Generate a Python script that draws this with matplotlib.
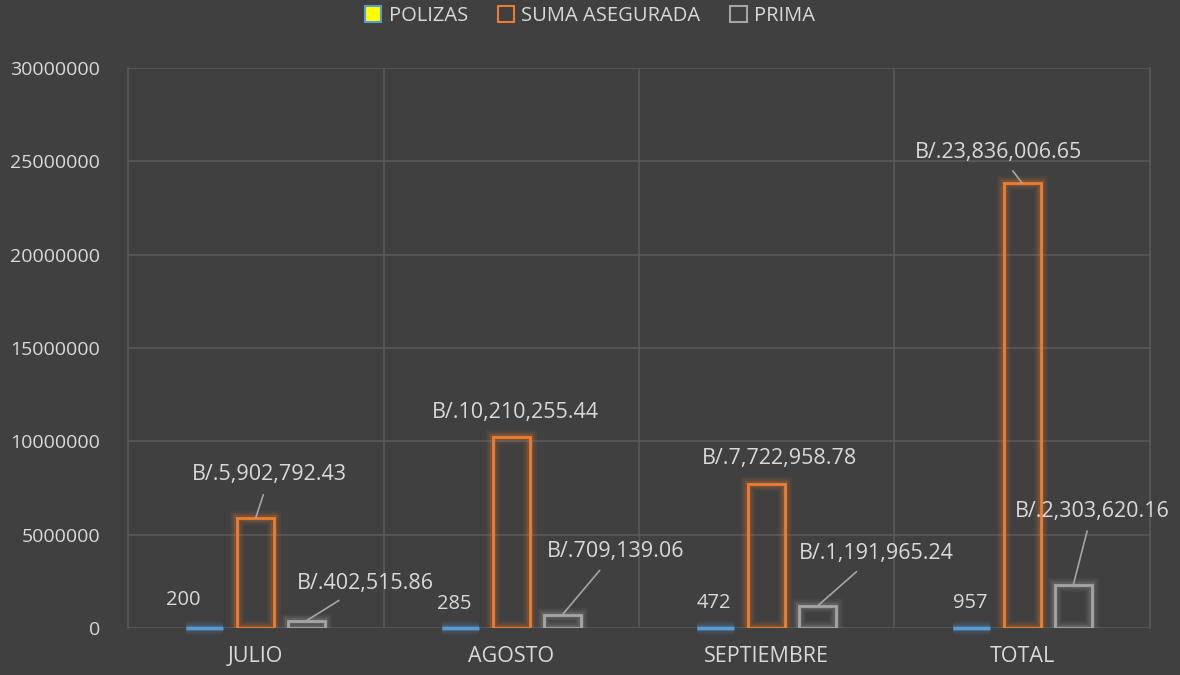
import matplotlib
matplotlib.use("Agg")
import matplotlib.pyplot as plt
import matplotlib.patheffects as pe
from matplotlib.patches import Patch
import numpy as np

plt.rcParams['font.family'] = ['Open Sans', 'DejaVu Sans']

categories = ["JULIO", "AGOSTO", "SEPTIEMBRE", "TOTAL"]
polizas = [200, 285, 472, 957]
suma_asegurada = [5902792.43, 10210255.44, 7722958.78, 23836006.65]
prima = [402515.86, 709139.06, 1191965.24, 2303620.16]
y_ticks = [0, 5000000, 10000000, 15000000, 20000000, 25000000, 30000000]

BG = "#404040"
GRID = "#595959"
TXT = "#D9D9D9"
BLUE = "#5B9BD5"
ORANGE = "#ED7D31"
GRAY = "#A5A5A5"


def money(v):
    return f"B/.{v:,.2f}"


def glow(color):
    return [pe.Stroke(linewidth=10, foreground=color, alpha=0.07),
            pe.Stroke(linewidth=7, foreground=color, alpha=0.1),
            pe.Stroke(linewidth=4.5, foreground=color, alpha=0.18),
            pe.Normal()]


fig = plt.figure(figsize=(11.8, 6.75), dpi=100, facecolor=BG)
ax = fig.add_axes([0.1085, 0.0696, 0.866, 0.8297], facecolor=BG)

x = np.arange(len(categories))
w = 0.145
step = 0.2

b1 = ax.bar(x - step, polizas, w, facecolor="#FFFF00", edgecolor=BLUE, linewidth=2.5,
            zorder=3, clip_on=False)
b2 = ax.bar(x, suma_asegurada, w, facecolor="none", edgecolor=ORANGE, linewidth=2, zorder=3)
b3 = ax.bar(x + step, prima, w, facecolor="none", edgecolor=GRAY, linewidth=2, zorder=3)
for bars, c in ((b1, BLUE), (b2, ORANGE), (b3, GRAY)):
    for r in bars:
        r.set_path_effects(glow(c))

ax.set_xlim(-0.5, 3.5)
ax.set_ylim(0, 30000000)
ax.set_yticks(y_ticks)
ax.set_yticklabels([str(v) for v in y_ticks])
ax.set_xticks(x)
ax.set_xticklabels(categories)
ax.set_xticks([0.5, 1.5, 2.5], minor=True)
ax.tick_params(axis="both", which="both", length=0, colors=TXT)
ax.tick_params(axis="y", pad=20, labelsize=14)
ax.tick_params(axis="x", pad=13, labelsize=15.5)
ax.yaxis.grid(True, color=GRID, linewidth=1.2, zorder=0)
ax.xaxis.grid(True, which="minor", color=GRID, linewidth=1.2, zorder=0)
for s in ("left", "right"):
    ax.spines[s].set_color(GRID)
    ax.spines[s].set_linewidth(1.2)
ax.spines["top"].set_visible(False)
ax.spines["bottom"].set_visible(False)
ax.set_axisbelow(True)

# polizas labels (no leader), offsets in pixels from bar top
pol_off = [(-21, 28), (-6, 24), (-2, 25), (-1, 25)]
for xi, v, off in zip(x, polizas, pol_off):
    ax.annotate(str(v), (xi - step, v), xytext=off, textcoords="offset pixels",
                ha="center", va="center", color=TXT, fontsize=14.5)

# money labels
suma_off = [(14, 43), (4, 25), (13, 25), (-24, 31)]
suma_lead = [True, False, False, True]
prima_off = [(59, 37), (53, 63), (59, 52), (19, 74)]

for xi, v, off, lead in zip(x, suma_asegurada, suma_off, suma_lead):
    ax.annotate(money(v), (xi, v), xytext=off, textcoords="offset pixels",
                ha="center", va="center", color=TXT, fontsize=15.5, zorder=5,
                arrowprops=dict(arrowstyle="-", color=GRAY, lw=1.2, shrinkA=5, shrinkB=0) if lead else None)
for xi, v, off in zip(x, prima, prima_off):
    ax.annotate(money(v), (xi + step, v), xytext=off, textcoords="offset pixels",
                ha="center", va="center", color=TXT, fontsize=15.5, zorder=5,
                arrowprops=dict(arrowstyle="-", color=GRAY, lw=1.2, shrinkA=5, shrinkB=0))

handles = [Patch(facecolor="#FFFF00", edgecolor=BLUE, linewidth=1.5, label="POLIZAS"),
           Patch(facecolor="none", edgecolor=ORANGE, linewidth=1.5, label="SUMA ASEGURADA"),
           Patch(facecolor="none", edgecolor=GRAY, linewidth=1.5, label="PRIMA")]
leg = fig.legend(handles=handles, loc="upper center", bbox_to_anchor=(0.5, 1.018), ncol=3,
                 frameon=False, fontsize=14.5, labelcolor=TXT, handlelength=0.8, handleheight=0.8,
                 handletextpad=0.35, columnspacing=1.5)

fig.savefig("out.png", dpi=100, facecolor=BG)
